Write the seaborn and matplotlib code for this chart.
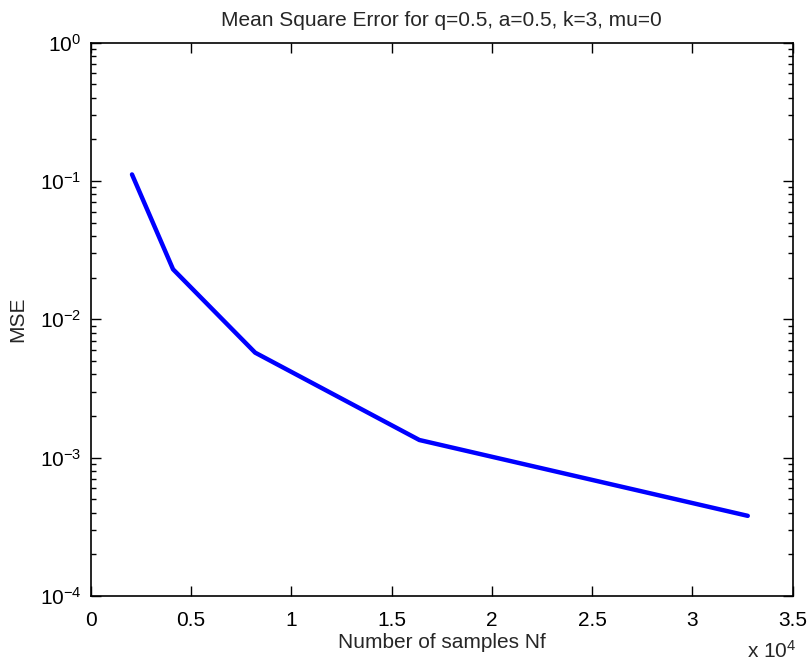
import matplotlib
matplotlib.use("Agg")
import matplotlib.pyplot as plt
import seaborn as sns
import pandas as pd
from matplotlib.ticker import LogLocator, NullFormatter

samples = [2048, 4096, 8192, 16384, 32768]
mse = [0.1116, 0.0230, 0.00574, 0.00134, 0.000379]
xtick_vals = [0, 5000, 10000, 15000, 20000, 25000, 30000, 35000]
xtick_labels = ["0", "0.5", "1", "1.5", "2", "2.5", "3", "3.5"]

sns.set_style("ticks")
plt.rcParams['font.family'] = ['Liberation Sans', 'DejaVu Sans']
plt.rcParams['mathtext.fontset'] = 'custom'
plt.rcParams['mathtext.rm'] = 'Liberation Sans'
plt.rcParams['mathtext.it'] = 'Liberation Sans'
plt.rcParams['xtick.direction'] = 'in'
plt.rcParams['ytick.direction'] = 'in'

FS = 15

df = pd.DataFrame({"Nf": samples, "MSE": mse})

fig = plt.figure(figsize=(8.12, 6.68), dpi=100)
ax = fig.add_axes([0.112, 0.108, 0.864, 0.828])
sns.lineplot(data=df, x="Nf", y="MSE", ax=ax, color=(0, 0, 1), linewidth=3.2)
ax.set_yscale("log")
ax.set_xlim(0, 35000)
ax.set_ylim(1e-4, 1)
ax.set_xticks(xtick_vals)
ax.set_xticklabels(xtick_labels)
ax.yaxis.set_major_locator(LogLocator(base=10, numticks=10))
ax.yaxis.set_minor_locator(LogLocator(base=10, subs=range(2, 10), numticks=20))
ax.yaxis.set_minor_formatter(NullFormatter())
ax.tick_params(which='both', top=True, right=True, direction='in', labelsize=FS, width=1, colors='black')
ax.tick_params(which='major', length=7)
ax.tick_params(which='minor', length=3.5)
ax.tick_params(axis='x', pad=11)
ax.tick_params(axis='y', pad=7)
for s in ax.spines.values():
    s.set_linewidth(1.2)
    s.set_color('black')
    s.set_visible(True)
ax.set_xlabel("Number of samples Nf", fontsize=FS, labelpad=2)
ax.set_ylabel("MSE", fontsize=FS, labelpad=9)
ax.set_title("Mean Square Error for q=0.5, a=0.5, k=3, mu=0", fontsize=FS, pad=12)
ax.text(1.005, -0.08, r"x 10$^{4}$", transform=ax.transAxes, ha='right', va='top', fontsize=FS)
fig.savefig("out.png", dpi=100)
